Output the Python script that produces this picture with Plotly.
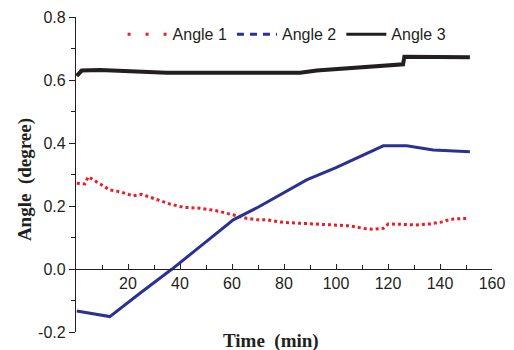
import plotly.graph_objects as go

# Angle 1 (red dotted)
a1_t = [0.3, 3.4, 4.7, 7.9, 13, 17, 22, 25.3, 31, 36.2, 41.3, 47.7, 54, 60.5, 65.6, 70,
        73.3, 79.7, 86.2, 92.6, 99, 105.4, 110.5, 114.4, 118.2, 120.1, 124.6, 131, 136.2,
        141.3, 143.8, 150.9]
a1_v = [0.272, 0.270, 0.293, 0.277, 0.251, 0.245, 0.232, 0.237, 0.221, 0.206, 0.196, 0.193,
        0.185, 0.171, 0.161, 0.156, 0.156, 0.148, 0.145, 0.142, 0.138, 0.137, 0.129, 0.126,
        0.129, 0.143, 0.142, 0.140, 0.143, 0.150, 0.158, 0.161]

# Angle 2 (blue)
a2_t = [0.3, 6.6, 13, 24.6, 36.8, 47.7, 60.5, 70, 80, 88.7, 100, 109.2, 118.2, 127.2, 137.4, 151.5]
a2_v = [-0.133, -0.141, -0.151, -0.077, -0.001, 0.071, 0.156, 0.196, 0.243, 0.283, 0.322, 0.357,
        0.391, 0.391, 0.378, 0.372]

# Angle 3 (black)
a3_t = [0.3, 2.2, 9.2, 22, 34.9, 47.7, 70.8, 86.2, 92.6, 99, 111.8, 124.6, 125.8, 126.3, 137.4, 151.5]
a3_v = [0.613, 0.630, 0.632, 0.626, 0.623, 0.623, 0.623, 0.623, 0.630, 0.634, 0.639, 0.648,
        0.650, 0.674, 0.674, 0.672]

x_ticks = [20, 40, 60, 80, 100, 120, 140, 160]
y_ticks = [-0.2, 0.0, 0.2, 0.4, 0.6, 0.8]
y_tick_text = ["-0.2", "0.0", "0.2", "0.4", "0.6", "0.8"]

ink = "#231f20"
red = "#ee1c25"
blue = "#2b3192"
fig = go.Figure()
fig.add_trace(go.Scatter(x=a1_t, y=a1_v, mode="lines", name="Angle 1", showlegend=False,
                         line=dict(color=red, width=3, dash="dot")))
fig.add_trace(go.Scatter(x=a2_t, y=a2_v, mode="lines", name="Angle 2", showlegend=False,
                         line=dict(color=blue, width=3)))
fig.add_trace(go.Scatter(x=a3_t, y=a3_v, mode="lines", name="Angle 3", showlegend=False,
                         line=dict(color=ink, width=4)))
# legend entries
fig.add_trace(go.Scatter(x=[None], y=[None], mode="lines", name="Angle 1",
                         line=dict(color=red, width=3, dash="3px,15px")))
fig.add_trace(go.Scatter(x=[None], y=[None], mode="lines", name="Angle 2",
                         line=dict(color=blue, width=3, dash="7px,6px")))
fig.add_trace(go.Scatter(x=[None], y=[None], mode="lines", name="Angle 3",
                         line=dict(color=ink, width=3)))

fig.update_layout(
    width=506, height=342,
    margin=dict(l=68, r=22, t=9, b=18),
    paper_bgcolor="white", plot_bgcolor="white",
    font=dict(family="Liberation Sans, Arial", size=16, color=ink),
    showlegend=True,
    legend=dict(orientation="h", x=0.112, y=0.945, xanchor="left", yanchor="middle",
                font=dict(size=16), bgcolor="rgba(0,0,0,0)", itemwidth=40,
                tracegroupgap=0),
    xaxis=dict(range=[0, 160], tickvals=x_ticks, showgrid=False, zeroline=False,
               automargin=False,
               showline=True, linecolor=ink, linewidth=1.2, anchor="free", position=0.2,
               ticks="inside", ticklen=5, tickcolor=ink, tickwidth=1.2,
               minor=dict(dtick=10, ticks="inside", ticklen=4, tickcolor=ink, tickwidth=1.2),
               tickfont=dict(size=16)),
    yaxis=dict(range=[-0.2, 0.8], tickvals=y_ticks, ticktext=y_tick_text, showgrid=False,
               automargin=False,
               zeroline=False, showline=True, linecolor=ink, linewidth=1.2,
               ticks="outside", ticklen=6, tickcolor=ink, tickwidth=1.2,
               minor=dict(dtick=0.1, ticks="outside", ticklen=4, tickcolor=ink, tickwidth=1.2),
               tickfont=dict(size=16)),
    annotations=[
        dict(text="<b>Angle  (degree)</b>", xref="paper", yref="paper", x=-0.122, y=0.483,
             textangle=-90, showarrow=False, xanchor="center", yanchor="middle",
             font=dict(family="Liberation Serif, Times New Roman", size=19, color=ink)),
        dict(text="<b>Time  (min)</b>", x=0.468, xref="paper", y=-0.027, yref="paper",
             showarrow=False, xanchor="center", yanchor="middle",
             font=dict(family="Liberation Serif, Times New Roman", size=19, color=ink)),
    ],
)

fig.write_html("out.html")
